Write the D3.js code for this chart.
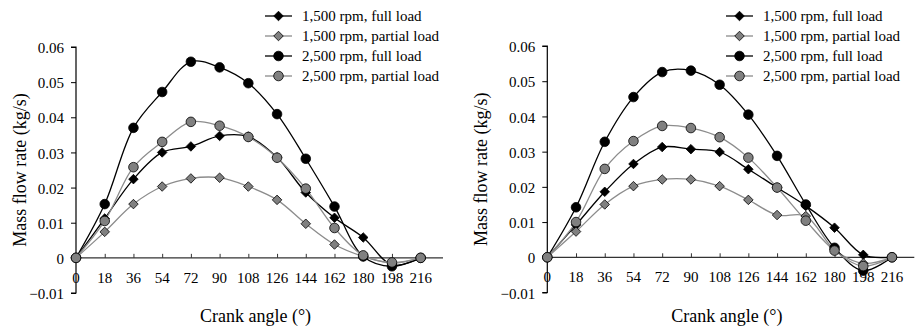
<!DOCTYPE html>
<html>
<head>
<meta charset="utf-8">
<script src="https://cdn.jsdelivr.net/npm/d3@7"></script>
<style>
  html, body { margin: 0; padding: 0; background: #fff; }
  svg { display: block; }
  svg text { font-family: "Liberation Serif", "DejaVu Serif", serif; }
</style>
</head>
<body>
<svg id="chart" width="917" height="326"></svg>
<script>
// ---- data ----
const angles = [0, 18, 36, 54, 72, 90, 108, 126, 144, 162, 180, 198, 216];
const yTicks = [-0.01, 0, 0.01, 0.02, 0.03, 0.04, 0.05, 0.06];
const yTickLabels = ["\u22120.01", "0", "0.01", "0.02", "0.03", "0.04", "0.05", "0.06"];
const seriesNames = ["1,500 rpm, full load", "1,500 rpm, partial load", "2,500 rpm, full load", "2,500 rpm, partial load"];
const xTitle = "Crank angle (\u00b0)";
const yTitle = "Mass flow rate (kg/s)";

// left chart
const leftFull1500    = [0, 0.0112, 0.0224, 0.0300, 0.0317, 0.0347, 0.0345, 0.0286, 0.0186, 0.0114, 0.0058, -0.0020, 0];
const leftPartial1500 = [0, 0.0074, 0.0153, 0.0203, 0.0226, 0.0228, 0.0203, 0.0165, 0.0097, 0.0038, 0.0004, -0.0015, 0];
const leftFull2500    = [0, 0.0153, 0.0370, 0.0472, 0.0558, 0.0542, 0.0497, 0.0409, 0.0282, 0.0146, 0.0004, -0.0024, 0];
const leftPartial2500 = [0, 0.0105, 0.0258, 0.0330, 0.0387, 0.0376, 0.0344, 0.0285, 0.0197, 0.0085, 0.0007, -0.0013, 0];

// right chart
const rightFull1500    = [0, 0.0092, 0.0186, 0.0265, 0.0313, 0.0307, 0.0299, 0.0250, 0.0198, 0.0146, 0.0084, 0.0007, 0];
const rightPartial1500 = [0, 0.0073, 0.0150, 0.0202, 0.0221, 0.0221, 0.0202, 0.0163, 0.0120, 0.0117, 0.0021, -0.0017, 0];
const rightFull2500    = [0, 0.0142, 0.0328, 0.0455, 0.0526, 0.0530, 0.0490, 0.0405, 0.0288, 0.0150, 0.0027, -0.0038, 0];
const rightPartial2500 = [0, 0.0100, 0.0251, 0.0330, 0.0373, 0.0367, 0.0341, 0.0283, 0.0198, 0.0104, 0.0019, -0.0025, 0];

// ---- styles ----
const FONT = "Liberation Serif, DejaVu Serif, serif";
const styles = [
  { line: "#000", fill: "#000", shape: "diamond" },
  { line: "#8c8c8c", fill: "#808080", shape: "diamond" },
  { line: "#000", fill: "#000", shape: "circle" },
  { line: "#8c8c8c", fill: "#808080", shape: "circle" }
];

const panels = [
  { series: [leftFull1500, leftPartial1500, leftFull2500, leftPartial2500],
    x0: 76, x1: 443, y0: 293, y1: 47, titleX: 26, legendX: 265 },
  { series: [rightFull1500, rightPartial1500, rightFull2500, rightPartial2500],
    x0: 547.3, x1: 914.3, y0: 292.5, y1: 46, titleX: 487, legendX: 726 }
];

const svg = d3.select("#chart").attr("font-family", FONT);

function drawMarker(g, shape, cx, cy, fill) {
  if (shape === "diamond") {
    g.append("path")
      .attr("d", d3.symbol().type(d3.symbolDiamond2).size(58)())
      .attr("transform", `translate(${cx},${cy})`)
      .attr("fill", fill).attr("stroke", "#000").attr("stroke-width", 0.8);
  } else {
    g.append("circle").attr("cx", cx).attr("cy", cy).attr("r", 4.8)
      .attr("fill", fill).attr("stroke", "#000").attr("stroke-width", 0.8);
  }
}

panels.forEach(p => {
  const x = d3.scaleLinear().domain([0, 230]).range([p.x0, p.x1]);
  const y = d3.scaleLinear().domain([-0.01, 0.06]).range([p.y0, p.y1]);
  const g = svg.append("g");

  // y axis
  const yAxis = d3.axisLeft(y).tickValues(yTicks).tickSize(5).tickPadding(7)
    .tickFormat((d, i) => yTickLabels[i]);
  const ya = g.append("g").attr("transform", `translate(${p.x0},0)`).call(yAxis)
    .attr("font-family", FONT).attr("font-size", 15);
  ya.select(".domain").attr("stroke", "#000").attr("stroke-width", 1.2)
    .attr("d", `M-5,${y(0.06)}H0V${y(-0.01)}H-5`);
  ya.selectAll(".tick line").attr("stroke", "#000");
  ya.selectAll(".tick text").attr("font-size", 15).attr("font-family", FONT)
    .attr("fill", "#000").attr("dy", "0.38em");

  // x axis at y=0
  const xAxis = d3.axisTop(x).tickValues(angles).tickSize(4).tickFormat("");
  const xa = g.append("g").attr("transform", `translate(0,${y(0)})`).call(xAxis);
  xa.select(".domain").attr("stroke", "#333").attr("stroke-width", 1.2)
    .attr("d", `M${p.x0},0H${p.x1}`);
  xa.selectAll(".tick line").attr("stroke", "#333");
  xa.selectAll(".tick").filter(d => d === 0).select("line").remove();

  g.selectAll(".xlab").data(angles).enter().append("text")
    .attr("x", d => x(d)).attr("y", y(0) + 25)
    .attr("text-anchor", "middle").attr("font-size", 15).attr("font-family", FONT).attr("fill", "#000")
    .text(d => d);

  // titles
  g.append("text").attr("x", (p.x0 + p.x1) / 2 - 4).attr("y", 322)
    .attr("text-anchor", "middle").attr("font-size", 18).attr("font-family", FONT).text(xTitle);
  g.append("text").attr("transform", `translate(${p.titleX},${(p.y0 + p.y1) / 2}) rotate(-90)`)
    .attr("text-anchor", "middle").attr("font-size", 18).attr("font-family", FONT).text(yTitle);

  // lines
  const line = d3.line().x((d, i) => x(angles[i])).y(d => y(d)).curve(d3.curveCatmullRom.alpha(0.5));
  p.series.forEach((s, k) => {
    g.append("path").datum(s).attr("d", line).attr("fill", "none")
      .attr("stroke", styles[k].line).attr("stroke-width", 1.3);
  });
  // markers
  p.series.forEach((s, k) => {
    const mg = g.append("g");
    s.forEach((v, i) => drawMarker(mg, styles[k].shape, x(angles[i]), y(v), styles[k].fill));
  });

  // legend
  seriesNames.forEach((name, k) => {
    const ly = 16 + k * 20;
    const lg = g.append("g");
    lg.append("line").attr("x1", p.legendX).attr("x2", p.legendX + 27)
      .attr("y1", ly).attr("y2", ly).attr("stroke", styles[k].line).attr("stroke-width", 1.3);
    drawMarker(lg, styles[k].shape, p.legendX + 13.5, ly, styles[k].fill);
    lg.append("text").attr("x", p.legendX + 37).attr("y", ly).attr("dy", "0.32em")
      .attr("font-size", 15).attr("font-family", FONT).attr("fill", "#000").text(name);
  });
});
</script>
</body>
</html>
